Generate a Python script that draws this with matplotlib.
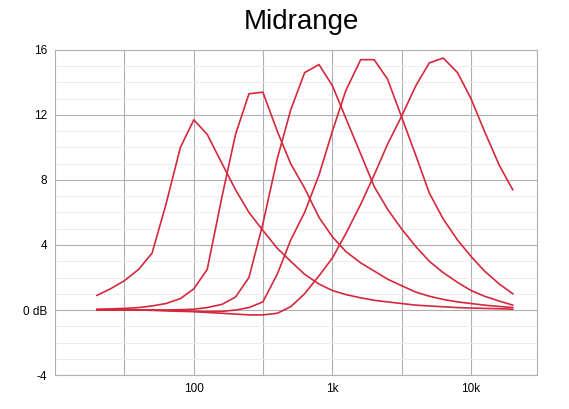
import numpy as np
import matplotlib.pyplot as plt

plt.rcParams['font.family'] = ['Liberation Sans', 'DejaVu Sans']

freqs = [20, 25, 31.5, 40, 50, 63, 80, 100, 125, 160, 200, 250, 315, 400, 500,
         630, 800, 1000, 1250, 1600, 2000, 2500, 3150, 4000, 5000, 6300, 8000,
         10000, 12500, 16000, 20000]

band1 = [0.9, 1.3, 1.8, 2.5, 3.5, 6.5, 10.0, 11.7, 10.8, 9.0, 7.4, 6.0, 4.9, 3.8, 3.0,
         2.2, 1.6, 1.2, 0.95, 0.75, 0.6, 0.5, 0.4, 0.3, 0.25, 0.2, 0.15,
         0.12, 0.1, 0.08, 0.05]
band2 = [0.05, 0.07, 0.1, 0.15, 0.25, 0.4, 0.7, 1.3, 2.5, 7.0, 10.8, 13.3, 13.4, 11.0, 9.0,
         7.5, 5.7, 4.5, 3.6, 2.9, 2.4, 1.9, 1.5, 1.1, 0.85, 0.65, 0.5,
         0.4, 0.3, 0.22, 0.15]
band3 = [0.0, 0.0, 0.0, 0.0, 0.0, 0.0, 0.02, 0.05, 0.15, 0.35, 0.8, 2.0, 5.3, 9.3, 12.3,
         14.6, 15.1, 13.8, 11.8, 9.6, 7.6, 6.2, 5.0, 3.9, 3.0, 2.3, 1.7,
         1.2, 0.85, 0.55, 0.3]
band4 = [0.0, 0.0, 0.0, 0.0, 0.0, -0.02, -0.05, -0.08, -0.1, -0.08, 0.0, 0.15, 0.5, 2.2, 4.3,
         6.0, 8.3, 11.0, 13.5, 15.4, 15.4, 14.2, 11.9, 9.5, 7.2, 5.6, 4.3,
         3.3, 2.4, 1.6, 1.0]
band5 = [0.0, 0.0, 0.0, 0.0, -0.02, -0.05, -0.08, -0.1, -0.15, -0.2, -0.25, -0.3, -0.3, -0.2, 0.2,
         1.0, 2.1, 3.2, 4.7, 6.5, 8.3, 10.2, 11.9, 13.8, 15.2, 15.5, 14.6,
         13.0, 11.0, 8.9, 7.4]

fig = plt.figure(figsize=(5.69, 4.09), dpi=100)
ax = fig.add_axes([0.097, 0.083, 0.847, 0.795])

for band in [band1, band2, band3, band4, band5]:
    ax.plot(freqs, band, color='#d4283c', lw=1.2)

ax.set_xscale('log')
ax.set_xlim(10, 30000)
ax.set_ylim(-4, 16)

# half-decade vertical grid, labels only on decades
ax.set_xticks([31.6, 100, 316, 1000, 3162, 10000], ['', '100', '', '1k', '', '10k'])
ax.set_xticks([], minor=True)
ax.set_yticks([-4, 0, 4, 8, 12, 16], ['-4', '0 dB', '4', '8', '12', '16'])
ax.set_yticks(np.arange(-4, 16, 1), minor=True)
ax.grid(which='major', color='#b0b0b0', lw=0.8)
ax.grid(which='minor', axis='y', color='#ebebeb', lw=0.6)
ax.tick_params(which='both', length=0, labelsize=8.5, pad=6)
for s in ax.spines.values():
    s.set_color('#b0b0b0')

fig.text(0.53, 0.945, 'Midrange', ha='center', va='center', fontsize=20)

fig.savefig('out.png')
